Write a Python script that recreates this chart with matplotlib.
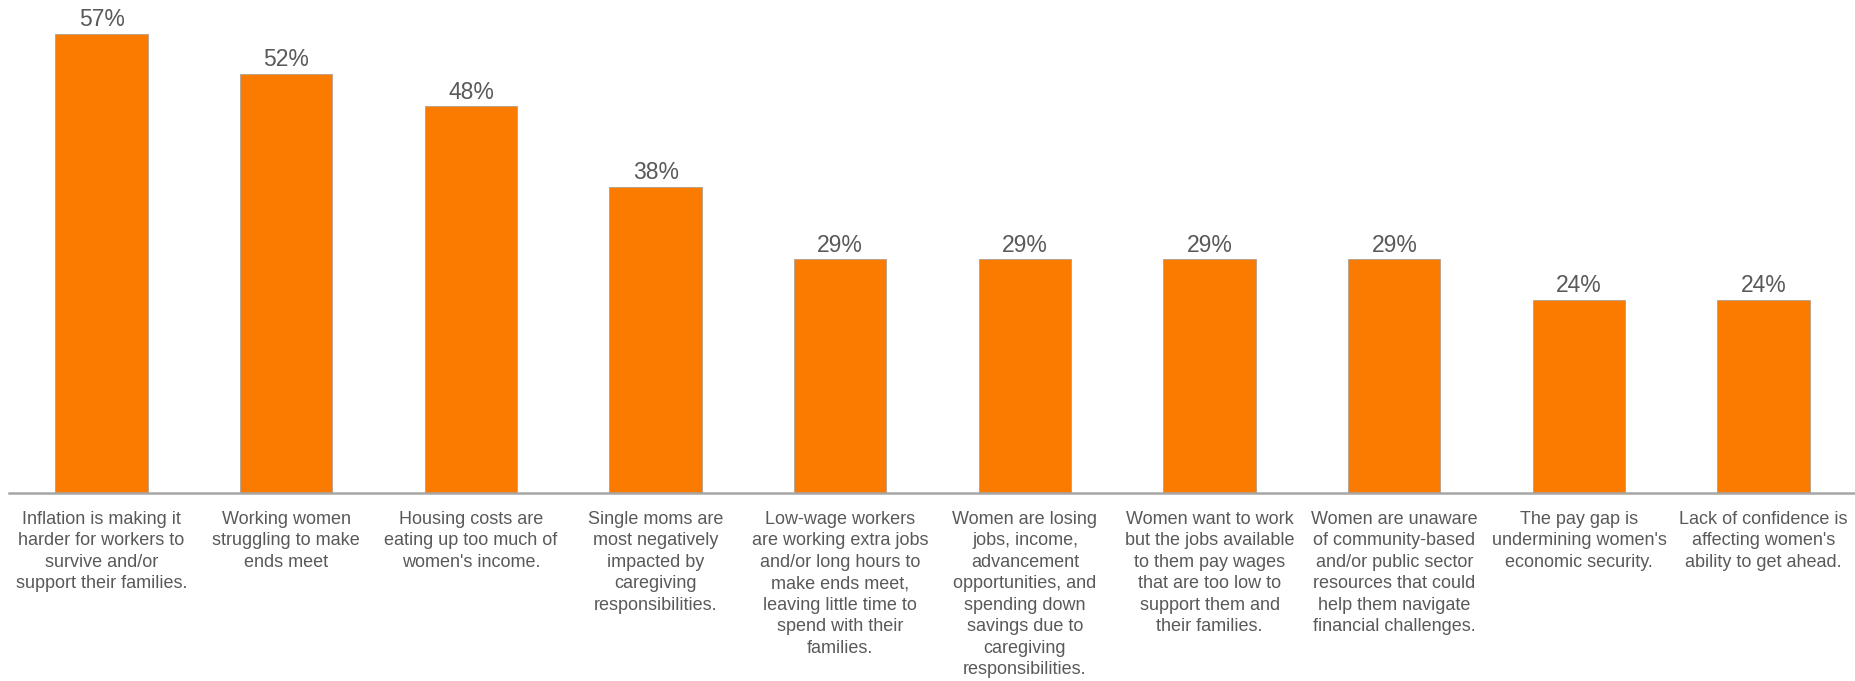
import matplotlib
matplotlib.use("Agg")
import matplotlib.pyplot as plt

categories = [
    "Inflation is making it\nharder for workers to\nsurvive and/or\nsupport their families.",
    "Working women\nstruggling to make\nends meet",
    "Housing costs are\neating up too much of\nwomen's income.",
    "Single moms are\nmost negatively\nimpacted by\ncaregiving\nresponsibilities.",
    "Low-wage workers\nare working extra jobs\nand/or long hours to\nmake ends meet,\nleaving little time to\nspend with their\nfamilies.",
    "Women are losing\njobs, income,\nadvancement\nopportunities, and\nspending down\nsavings due to\ncaregiving\nresponsibilities.",
    "Women want to work\nbut the jobs available\nto them pay wages\nthat are too low to\nsupport them and\ntheir families.",
    "Women are unaware\nof community-based\nand/or public sector\nresources that could\nhelp them navigate\nfinancial challenges.",
    "The pay gap is\nundermining women's\neconomic security.",
    "Lack of confidence is\naffecting women's\nability to get ahead.",
]
values = [57, 52, 48, 38, 29, 29, 29, 29, 24, 24]
value_labels = ["57%", "52%", "48%", "38%", "29%", "29%", "29%", "29%", "24%", "24%"]

plt.rcParams['font.family'] = ['Liberation Sans', 'DejaVu Sans']

fig = plt.figure(figsize=(18.56, 6.81), dpi=100)
ax = fig.add_axes([0.005, 1 - 493 / 681, 0.995, 493 / 681])

x = list(range(len(values)))
bars = ax.bar(x, values, width=0.5, color='#FA7B00', edgecolor='#b0a090', linewidth=0.6, zorder=2)

for xi, v, lab in zip(x, values, value_labels):
    ax.annotate(lab, (xi, v), xytext=(0, 2), textcoords='offset points',
                ha='center', va='bottom', fontsize=16.5, color='#595959')

ax.set_xlim(-0.5, len(values) - 0.5)
ax.set_ylim(0, 61.2)
ax.set_xticks(x)
ax.set_xticklabels(categories, fontsize=13, color='#595959', linespacing=1.34)
ax.tick_params(axis='x', length=0, pad=13)
ax.set_yticks([])
for s in ['top', 'right', 'left']:
    ax.spines[s].set_visible(False)
ax.spines['bottom'].set_color('#a6a6a6')
ax.spines['bottom'].set_linewidth(1.8)

fig.savefig('out.png', dpi=100, facecolor='white')
